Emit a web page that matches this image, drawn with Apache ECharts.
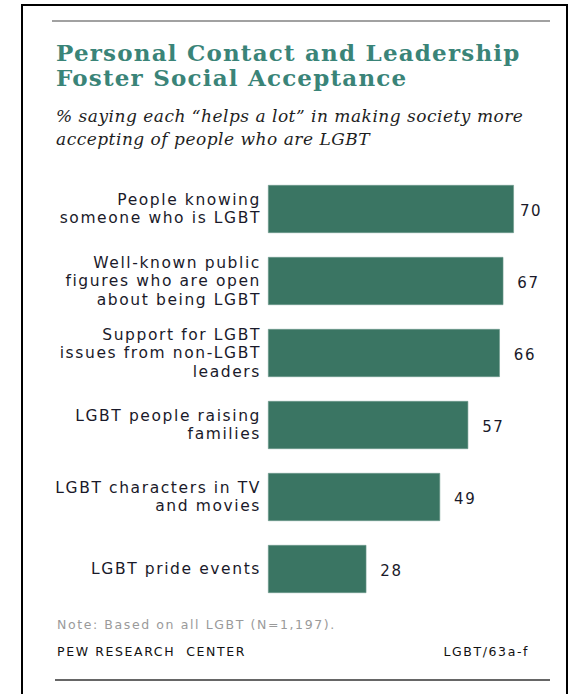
<!DOCTYPE html>
<html>
<head>
<meta charset="utf-8">
<script src="https://cdn.jsdelivr.net/npm/echarts@6/dist/echarts.min.js"></script>
<style>
  html, body { margin: 0; padding: 0; background: #fff; }
  #chart { width: 577px; height: 694px; }
  #chart svg text[style*="DejaVu Sans"] { letter-spacing: 1.6px; }
  #chart svg text[style*="DejaVu Serif"][style*="bold"] { letter-spacing: 1.2px; }
  #chart svg text[style*="DejaVu Serif"][style*="italic"] { letter-spacing: 0.5px; }
</style>
</head>
<body>
<div id="chart"></div>
<script>
// ---- data ----
const categories = [
  "People knowing\nsomeone who is LGBT",
  "Well-known public\nfigures who are open\nabout being LGBT",
  "Support for LGBT\nissues from non-LGBT\nleaders",
  "LGBT people raising\nfamilies",
  "LGBT characters in TV\nand movies",
  "LGBT pride events"
];
const values = [70, 67, 66, 57, 49, 28];
const titleText = "Personal Contact and Leadership\nFoster Social Acceptance";
const subtitleText = "% saying each \u201chelps a lot\u201d in making society more\naccepting of people who are LGBT";
const noteText = "Note: Based on all LGBT (N=1,197).";
const sourceText = "PEW RESEARCH  CENTER";
const codeText = "LGBT/63a-f";

const chart = echarts.init(document.getElementById('chart'), null, { renderer: 'svg' });

const sans = 'DejaVu Sans';
const serif = 'DejaVu Serif';

const option = {
  backgroundColor: '#ffffff',
  animation: false,
  title: [
    {
      text: titleText,
      left: 56, top: 40, padding: 0,
      textStyle: { fontFamily: serif, fontWeight: 'bold', fontSize: 23, lineHeight: 25, color: '#3a8478' }
    },
    {
      text: subtitleText,
      left: 56, top: 104, padding: 0,
      textStyle: { fontFamily: serif, fontStyle: 'italic', fontWeight: 'normal', fontSize: 17, lineHeight: 23, color: '#1e1e1e' }
    },
    {
      text: noteText,
      left: 57, top: 618, padding: 0,
      textStyle: { fontFamily: sans, fontWeight: 'normal', fontSize: 12.5, color: '#9a9a9a' }
    },
    {
      text: sourceText,
      left: 57, top: 645, padding: 0,
      textStyle: { fontFamily: sans, fontWeight: 'normal', fontSize: 12.5, color: '#111' }
    },
    {
      text: codeText,
      right: 64, top: 645, padding: 0,
      textStyle: { fontFamily: sans, fontWeight: 'normal', fontSize: 12.5, color: '#111' }
    }
  ],
  graphic: [
    { type: 'rect', shape: { x: 22, y: 5, width: 545, height: 720 }, style: { fill: 'none', stroke: '#000', lineWidth: 2 }, silent: true },
    { type: 'line', shape: { x1: 52, y1: 21, x2: 550, y2: 21 }, style: { stroke: '#444', lineWidth: 1.2 }, silent: true },
    { type: 'line', shape: { x1: 55, y1: 680, x2: 550, y2: 680 }, style: { stroke: '#333', lineWidth: 1.5 }, silent: true }
  ],
  grid: { left: 268, top: 173, width: 281, height: 432, containLabel: false },
  xAxis: {
    type: 'value', min: 0, max: 80,
    show: false
  },
  yAxis: {
    type: 'category', data: categories, inverse: true,
    axisLine: { show: false }, axisTick: { show: false }, splitLine: { show: false },
    axisLabel: { margin: 7, fontFamily: sans, fontSize: 15.5, lineHeight: 18.5, color: '#1a1a2a', align: 'right' }
  },
  series: [{
    type: 'bar',
    barWidth: 48,
    data: values.map((v, i) => ({ value: v, label: { distance: i === 0 ? 6 : 14 } })),
    itemStyle: { color: '#3a7563', borderColor: '#6f9a8d', borderWidth: 0.6 },
    label: { show: true, position: 'right', fontFamily: sans, fontSize: 15, color: '#1a1a2a', offset: [0, 2] }
  }]
};
chart.setOption(option);
</script>
</body>
</html>
